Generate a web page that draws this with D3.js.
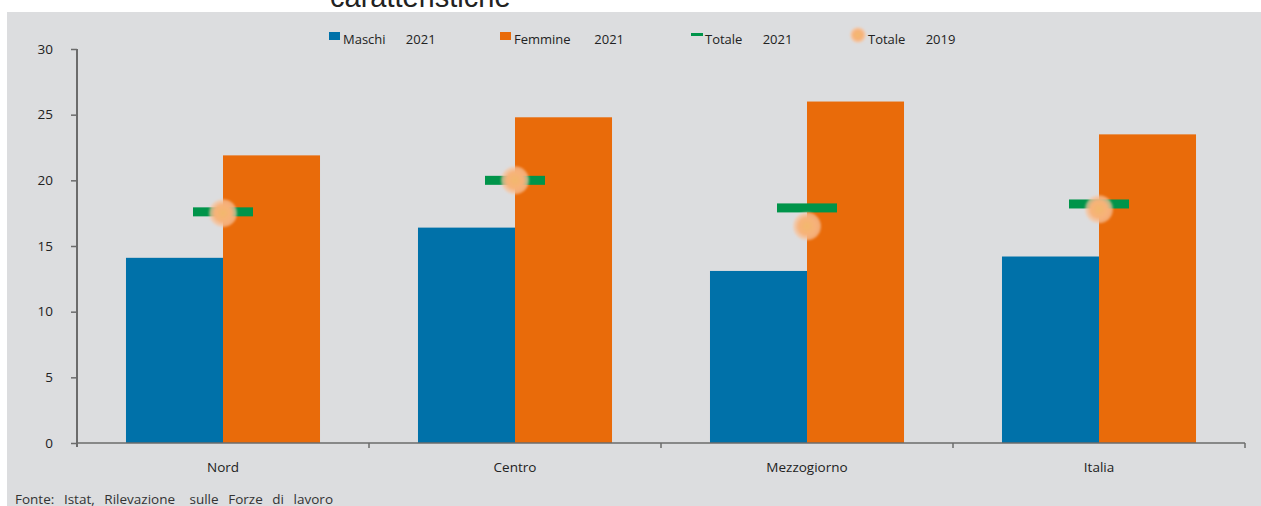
<!DOCTYPE html>
<html><head><meta charset="utf-8">
<script src="https://cdn.jsdelivr.net/npm/d3@7"></script>
<style>
html,body{margin:0;padding:0;background:#fff;}
svg{display:block;font-family:"Open Sans",sans-serif;}
text{white-space:pre;}
</style></head>
<body>
<svg id="chart" width="1261" height="506"></svg>
<script>
const categories = ["Nord", "Centro", "Mezzogiorno", "Italia"];
const maschi2021 = [14.1, 16.4, 13.1, 14.2];
const femmine2021 = [21.9, 24.8, 26.0, 23.5];
const totale2021 = [17.6, 20.0, 17.9, 18.2];
const totale2019 = [17.5, 20.0, 16.5, 17.8];
const yTicks = [0, 5, 10, 15, 20, 25, 30];
const legendLabels = ["Maschi      2021", "Femmine       2021", "Totale      2021", "Totale      2019"];
const titleText = "caratteristiche";
const sourceText = "Fonte:  Istat,  Rilevazione   sulle  Forze  di  lavoro";

const colors = {maschi:"#0071a9", femmine:"#e96b0a", tot21:"#00944a", tot19:"#f6b26b", bg:"#dcdddf", axis:"#6b6b6b"};

const svg = d3.select("#chart");
svg.append("rect").attr("x",7).attr("y",12).attr("width",1254).attr("height",494).attr("fill",colors.bg);
svg.append("text").attr("x",330).attr("y",7).attr("font-family","'Liberation Sans',Arial,sans-serif")
  .attr("font-size",29).attr("fill","#222").text(titleText);

const x0 = d3.scaleBand().domain(categories).range([77,1245]).padding(0);
const x1 = d3.scaleBand().domain(["m","f"]).range([0,x0.bandwidth()]).paddingInner(0).paddingOuter(0.505);
const y = d3.scaleLinear().domain([0,30]).range([443,49]);

const defs = svg.append("defs");
const rg = defs.append("radialGradient").attr("id","blob");
rg.append("stop").attr("offset","0%").attr("stop-color","#f2b86c");
rg.append("stop").attr("offset","60%").attr("stop-color","#f7b27a");
rg.append("stop").attr("offset","100%").attr("stop-color","#f7c9a8").attr("stop-opacity",0.6);
const blur = defs.append("filter").attr("id","bl").attr("x","-50%").attr("y","-50%").attr("width","200%").attr("height","200%");
blur.append("feGaussianBlur").attr("stdDeviation",1.2);

const g = svg.append("g");
categories.forEach((c,i)=>{
  g.append("rect").attr("x",x0(c)+x1("m")).attr("y",y(maschi2021[i])).attr("width",x1.bandwidth())
    .attr("height",y(0)-y(maschi2021[i])).attr("fill",colors.maschi);
  g.append("rect").attr("x",x0(c)+x1("f")).attr("y",y(femmine2021[i])).attr("width",x1.bandwidth())
    .attr("height",y(0)-y(femmine2021[i])).attr("fill",colors.femmine);
});
g.selectAll(".t21").data(categories).join("rect").attr("class","t21")
  .attr("x",c=>x0(c)+x0.bandwidth()/2-30).attr("y",(c,i)=>y(totale2021[i])-4.5)
  .attr("width",60).attr("height",9).attr("fill",colors.tot21);
g.selectAll(".t19").data(categories).join("circle").attr("class","t19")
  .attr("cx",c=>x0(c)+x0.bandwidth()/2).attr("cy",(c,i)=>y(totale2019[i]))
  .attr("r",14).attr("fill","url(#blob)").attr("filter","url(#bl)");

const yAxis = d3.axisLeft(y).tickValues(yTicks).tickSize(6).tickPadding(18);
const ya = svg.append("g").attr("transform","translate(77,0)").call(yAxis);
ya.select(".domain").attr("stroke",colors.axis).attr("stroke-width",2).attr("d","M0,49V447");
ya.selectAll(".tick line").attr("stroke",colors.axis).attr("stroke-width",1.5);
ya.selectAll(".tick text").attr("font-size",13.5).attr("fill","#222").attr("font-family","'Open Sans',sans-serif");

const xAxis = d3.axisBottom(x0).tickSize(0).tickPadding(19);
const xa = svg.append("g").attr("transform","translate(0,443)").call(xAxis);
xa.select(".domain").attr("stroke",colors.axis).attr("stroke-width",1.5).attr("d","M77,0H1245");
xa.selectAll(".tick text").attr("font-size",13.5).attr("fill","#222").attr("font-family","'Open Sans',sans-serif");
const bounds = categories.slice(1).map(c=>x0(c)).concat([x0(categories[categories.length-1])+x0.bandwidth()]);
xa.selectAll(".bt").data(bounds).join("line").attr("class","bt")
  .attr("x1",d=>d).attr("x2",d=>d).attr("y1",0).attr("y2",5).attr("stroke",colors.axis).attr("stroke-width",1.5);

const legX = [329, 500, 691, 858];
const leg = svg.append("g");
legendLabels.forEach((lab,i)=>{
  const lx = legX[i];
  if(i<2){
    leg.append("rect").attr("x",lx).attr("y",32).attr("width",11).attr("height",8).attr("fill",i===0?colors.maschi:colors.femmine);
  } else if(i===2){
    leg.append("rect").attr("x",lx).attr("y",33).attr("width",12).attr("height",3).attr("fill",colors.tot21);
  } else {
    leg.append("circle").attr("cx",lx).attr("cy",35).attr("r",8).attr("fill","url(#blob)").attr("filter","url(#bl)");
  }
  leg.append("text").attr("x", i===3 ? lx+10 : lx+14).attr("y",44).attr("font-size",13).attr("fill","#222").text(lab);
});

svg.append("text").attr("x",15).attr("y",504).attr("font-size",13.5).attr("word-spacing",1.3).attr("fill","#333").text(sourceText);
</script>
</body></html>
